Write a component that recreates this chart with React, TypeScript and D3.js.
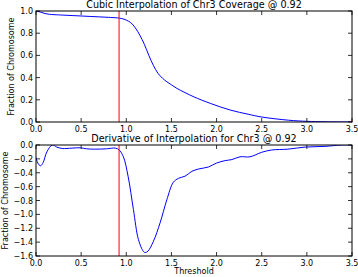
import React from "react";
import * as d3 from "d3";

const W = 358;
const H = 277;

const xTicks = [0, 0.5, 1.0, 1.5, 2.0, 2.5, 3.0, 3.5];
const topYTicks = [0, 0.2, 0.4, 0.6, 0.8, 1.0];
const botYTicks = [0, -0.2, -0.4, -0.6, -0.8, -1.0, -1.2, -1.4, -1.6];
const threshold = 0.92;

const coverageX = [0, 0.05, 0.1, 0.15, 0.2, 0.3, 0.4, 0.5, 0.6, 0.7, 0.8, 0.9, 0.95, 1.0, 1.05, 1.1, 1.15, 1.2, 1.25, 1.3, 1.35, 1.4, 1.45, 1.5, 1.56, 1.65, 1.75, 1.93, 2.15, 2.35, 2.5, 2.8, 3.0, 3.2, 3.5];
const coverageY = [1.0, 0.99, 0.977, 0.97, 0.967, 0.963, 0.959, 0.955, 0.951, 0.947, 0.943, 0.938, 0.932, 0.918, 0.895, 0.848, 0.782, 0.7, 0.6, 0.51, 0.44, 0.395, 0.362, 0.335, 0.303, 0.265, 0.226, 0.168, 0.108, 0.07, 0.045, 0.016, 0.006, 0.002, 0.0];

const derivX = [0, 0.02, 0.05, 0.08, 0.12, 0.18, 0.23, 0.29, 0.4, 0.49, 0.56, 0.65, 0.78, 0.88, 0.92, 0.968, 1.02, 1.079, 1.134, 1.19, 1.21, 1.24, 1.3, 1.375, 1.449, 1.52, 1.578, 1.65, 1.726, 1.8, 1.91, 2.0, 2.095, 2.17, 2.26, 2.37, 2.5, 2.61, 2.79, 2.98, 3.2, 3.38, 3.5];
const derivY = [-0.18, -0.26, -0.3, -0.25, -0.1, 0.0, -0.03, -0.05, -0.045, -0.04, -0.055, -0.06, -0.055, -0.045, -0.07, -0.17, -0.45, -0.93, -1.36, -1.535, -1.55, -1.53, -1.39, -1.12, -0.79, -0.54, -0.48, -0.45, -0.38, -0.346, -0.317, -0.26, -0.225, -0.21, -0.17, -0.17, -0.105, -0.072, -0.06, -0.03, -0.02, 0.0, 0.0];

const left = 36;
const right = 352;

interface PanelProps {
  top: number;
  bottom: number;
  domain: [number, number];
  yTicks: number[];
  xs: number[];
  ys: number[];
  title: string;
  titleY: number;
  labelX: number;
}

const fmt = (v: number) => {
  const s = Math.abs(v).toFixed(1);
  return v < -1e-9 ? "\u2212" + s : s;
};

function Panel({ top, bottom, domain, yTicks, xs, ys, title, titleY, labelX }: PanelProps) {
  const x = d3.scaleLinear().domain([0, 3.5]).range([left, right]);
  const y = d3.scaleLinear().domain(domain).range([bottom, top]);
  const pts: [number, number][] = xs.map((v, i) => [v, ys[i]]);
  const line = d3
    .line<[number, number]>()
    .x((d) => x(d[0]))
    .y((d) => y(d[1]))
    .curve(d3.curveCatmullRom.alpha(0.5));
  const tl = 4;
  return (
    <g>
      <defs>
        <clipPath id={"clip" + top}>
          <rect x={left} y={top} width={right - left} height={bottom - top} />
        </clipPath>
      </defs>
      <g clipPath={`url(#clip${top})`}>
        <path d={line(pts) || ""} fill="none" stroke="#0000ff" strokeWidth={1} />
        <line x1={x(threshold)} x2={x(threshold)} y1={top} y2={bottom} stroke="#ff0000" strokeWidth={1} />
      </g>
      <rect x={left} y={top} width={right - left} height={bottom - top} fill="none" stroke="#000" strokeWidth={1} />
      {xTicks.map((t) => (
        <g key={"x" + t}>
          <line x1={x(t)} x2={x(t)} y1={bottom} y2={bottom - tl} stroke="#000" strokeWidth={0.8} />
          <line x1={x(t)} x2={x(t)} y1={top} y2={top + tl} stroke="#000" strokeWidth={0.8} />
          <text x={x(t)} y={bottom + 10} textAnchor="middle" fontSize={8} fontFamily="DejaVu Sans">
            {t.toFixed(1)}
          </text>
        </g>
      ))}
      {yTicks.map((t) => (
        <g key={"y" + t}>
          <line x1={left} x2={left + tl} y1={y(t)} y2={y(t)} stroke="#000" strokeWidth={0.8} />
          <line x1={right} x2={right - tl} y1={y(t)} y2={y(t)} stroke="#000" strokeWidth={0.8} />
          <text x={left - 3} y={y(t) + 3} textAnchor="end" fontSize={8} fontFamily="DejaVu Sans">
            {fmt(t)}
          </text>
        </g>
      ))}
      <text x={(left + right) / 2} y={titleY} textAnchor="middle" fontSize={9.6} fontFamily="DejaVu Sans">
        {title}
      </text>
      <text
        transform={`translate(${labelX},${(top + bottom) / 2}) rotate(-90)`}
        textAnchor="middle"
        fontSize={8}
        fontFamily="DejaVu Sans"
      >
        Fraction of Chromosome
      </text>
    </g>
  );
}

export default function App() {
  return (
    <svg width={W} height={H} style={{ position: "absolute", left: 0, top: 0, background: "#fff" }}>
      <rect width={W} height={H} fill="#fff" />
      <Panel
        top={11}
        bottom={122}
        domain={[0, 1]}
        yTicks={topYTicks}
        xs={coverageX}
        ys={coverageY}
        title="Cubic Interpolation of Chr3 Coverage @ 0.92"
        titleY={8}
        labelX={14}
      />
      <Panel
        top={145}
        bottom={256}
        domain={[-1.6, 0]}
        yTicks={botYTicks}
        xs={derivX}
        ys={derivY}
        title="Derivative of Interpolation for Chr3 @ 0.92"
        titleY={142}
        labelX={8}
      />
      <text x={(left + right) / 2} y={274} textAnchor="middle" fontSize={8} fontFamily="DejaVu Sans">
        Threshold
      </text>
    </svg>
  );
}
